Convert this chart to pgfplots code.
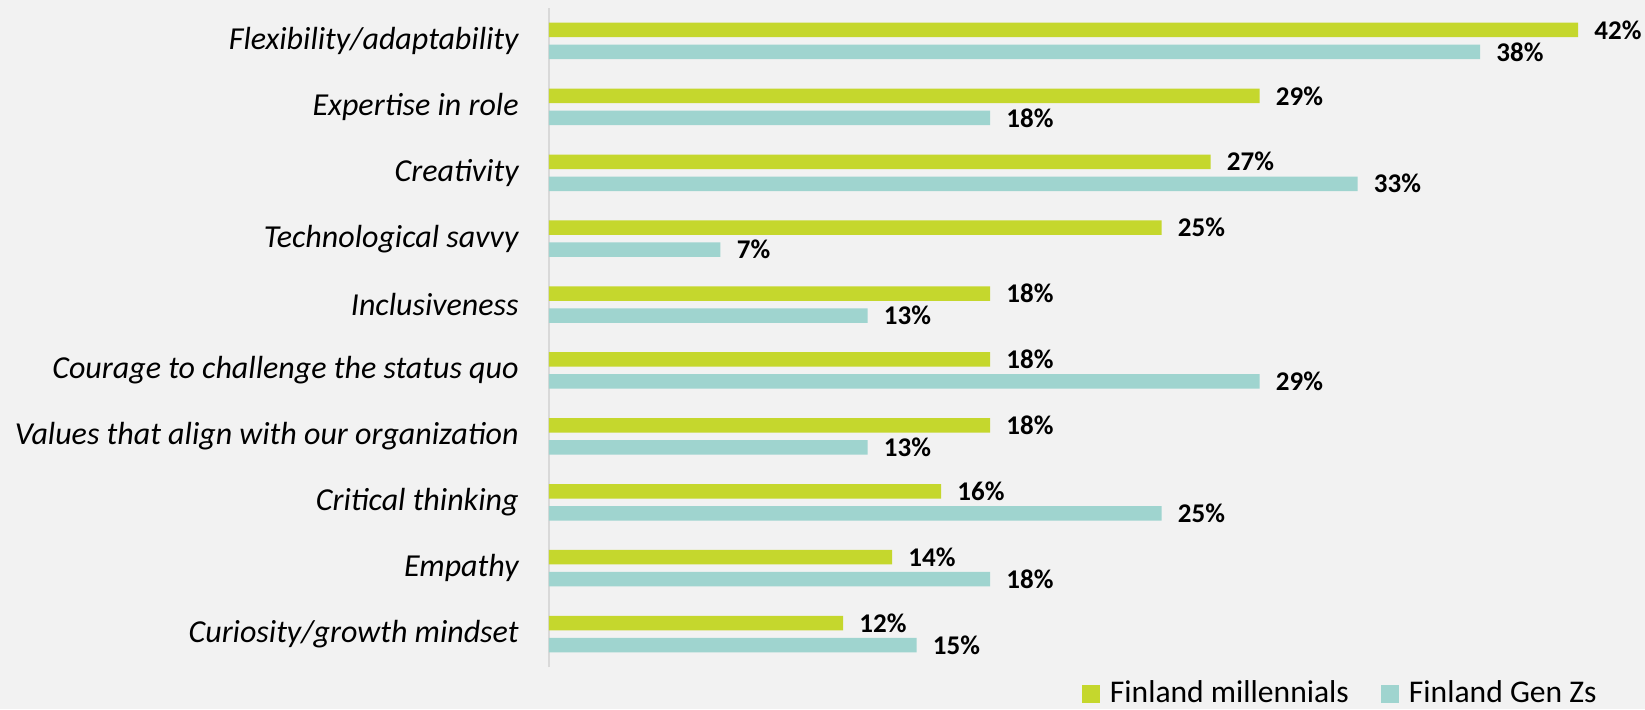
\documentclass[border=0pt]{standalone}
\usepackage{fontspec}
\setmainfont{Carlito}
\usepackage{pgfplots}
\pgfplotsset{compat=1.18}
\definecolor{bg}{HTML}{F2F2F2}
\definecolor{mill}{HTML}{C5D72D}
\definecolor{genz}{HTML}{9FD4CF}
\definecolor{axisgray}{HTML}{D9D9D9}

\begin{document}
\begin{tikzpicture}
\fill[bg] (0,0) rectangle (822.5pt,354.5pt);
\begin{axis}[
    at={(274.5pt,21pt)},
    anchor=south west,
    scale only axis,
    x=12.25pt,
    y=32.95pt,
    xmin=0, xmax=44.73,
    ymin=-0.5, ymax=9.5,
    xbar,
    bar width=7.25pt,
    axis x line=none,
    axis y line*=left,
    y axis line style={draw=axisgray, line width=1pt},
    major tick length=0pt,
    ytick={0,...,9},
    yticklabels={Curiosity/growth mindset, Empathy, Critical thinking,
      Values that align with our organization, Courage to challenge the status quo,
      Inclusiveness, Technological savvy, Creativity, Expertise in role,
      Flexibility/adaptability},
    yticklabel style={font=\itshape\fontsize{16}{19}\selectfont, anchor=east, inner sep=0pt, xshift=-15pt},
    point meta=x,
    nodes near coords={\pgfmathprintnumber{\pgfplotspointmeta}\%},
    nodes near coords style={anchor=west, inner sep=0pt, xshift=8pt,
      font=\bfseries\fontsize{13.5}{16}\selectfont, text=black},
    /pgf/number format/assume math mode=true,
    legend columns=2,
    legend image code/.code={\fill[#1, draw=none] (0pt,-5pt) rectangle (9pt,4pt);},
    legend style={at={(0.96,0)}, anchor=east, yshift=-13pt, draw=none, fill=none,
      inner sep=0pt, font=\fontsize{15.8}{18}\selectfont,
      /tikz/every odd column/.append style={column sep=3pt},
      /tikz/every even column/.append style={column sep=14pt}},
]
\addplot[fill=mill, draw=none, bar shift=5.5pt] coordinates {
    (12,0) (14,1) (16,2) (18,3) (18,4) (18,5) (25,6) (27,7) (29,8) (42,9)
};
\addlegendentry{Finland millennials}
\addplot[fill=genz, draw=none, bar shift=-5.5pt] coordinates {
    (15,0) (18,1) (25,2) (13,3) (29,4) (13,5) (7,6) (33,7) (18,8) (38,9)
};
\addlegendentry{Finland Gen Zs}
\end{axis}
\pgfresetboundingbox
\useasboundingbox (0,0) rectangle (822.5pt,354.5pt);
\end{tikzpicture}
\end{document}
